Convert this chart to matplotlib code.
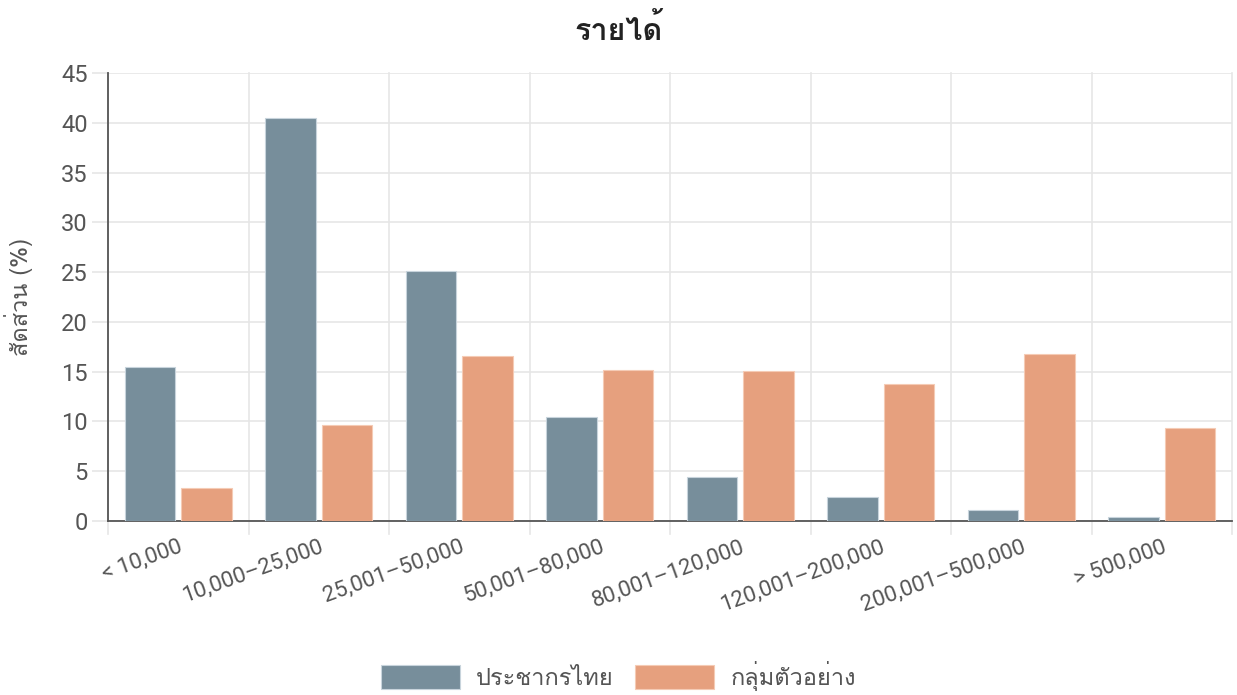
import matplotlib
matplotlib.use("Agg")
import matplotlib.pyplot as plt
from matplotlib import font_manager
import numpy as np

categories = ["< 10,000", "10,000–25,000", "25,001–50,000", "50,001–80,000",
              "80,001–120,000", "120,001–200,000", "200,001–500,000", "> 500,000"]
thai_pop = [15.5, 40.5, 25.1, 10.4, 4.4, 2.4, 1.1, 0.4]
sample = [3.3, 9.6, 16.6, 15.2, 15.1, 13.8, 16.8, 9.3]
series_names = ["ประชากรไทย", "กลุ่มตัวอย่าง"]
title = "รายได้"
ylabel = "สัดส่วน (%)"

# find a font with Thai glyphs
thai_fonts = []
try:
    from fontTools.ttLib import TTFont
    seen = set()
    for f in font_manager.fontManager.ttflist:
        if f.name in seen:
            continue
        try:
            tt = TTFont(f.fname, fontNumber=0, lazy=True)
            cmap = tt.getBestCmap()
            if cmap and 0x0E23 in cmap:
                thai_fonts.append(f.name)
                seen.add(f.name)
        except Exception:
            pass
except Exception:
    pass
families = thai_fonts + ["DejaVu Sans"]
plt.rcParams['font.family'] = families
latin = ["Roboto"] + families

fig = plt.figure(figsize=(12.37, 6.95), dpi=100)
ax = fig.add_axes([108/1237, 1 - 521/695, (1232-108)/1237, (521-73)/695])

x = np.arange(len(categories))
w = 0.36
c1 = "#778e9b"
c2 = "#e6a07e"
ax.bar(x - 0.2, thai_pop, w, color=c1, edgecolor="#c8d4dc", linewidth=0.8, label=series_names[0], zorder=3)
ax.bar(x + 0.2, sample, w, color=c2, edgecolor="#f5cbb5", linewidth=0.8, label=series_names[1], zorder=3)

ax.set_xlim(-0.5, len(categories) - 0.5)
ax.set_ylim(0, 45)
ax.set_yticks(np.arange(0, 46, 5))
ax.yaxis.grid(True, color="#e6e6e6", linewidth=1.2, zorder=0)
for b in np.arange(-0.5, len(categories), 1.0):
    ax.axvline(b, color="#e6e6e6", linewidth=1.2, zorder=0, ymin=-0.03, clip_on=False)
ax.set_xticks(x)
ax.set_xticklabels(categories, rotation=20, ha="right", rotation_mode="anchor",
                   fontsize=16, color="#555555", family=latin)
ax.tick_params(axis="x", length=0, pad=11)
ax.tick_params(axis="y", length=11.5, color="#e6e6e6", width=1.2, pad=3)
for lab in ax.get_yticklabels():
    lab.set_fontsize(17)
    lab.set_color("#555555")
    lab.set_family(latin)
for s in ["top", "right"]:
    ax.spines[s].set_visible(False)
ax.spines["left"].set_color("#555555")
ax.spines["bottom"].set_color("#555555")
ax.spines["left"].set_linewidth(1.3)
ax.spines["bottom"].set_linewidth(1.3)
ax.set_ylabel(ylabel, fontsize=17, color="#555555", labelpad=20)

fig.text(0.5, 1 - 30/695, title, ha="center", va="center", fontsize=22, fontweight="bold", color="#222222")

handles, labels = ax.get_legend_handles_labels()
fig.legend(handles, labels, loc="center", bbox_to_anchor=(0.5, 1 - 676/695), ncol=2, frameon=False,
           fontsize=17, handlelength=3.35, handleheight=1.2, columnspacing=0.9, handletextpad=0.7,
           labelcolor="#555555")

fig.savefig("out.png", dpi=100)
